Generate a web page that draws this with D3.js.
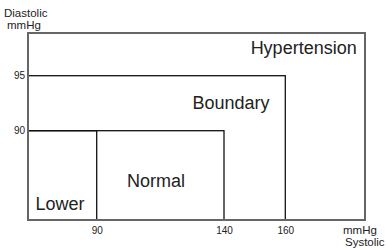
<!DOCTYPE html>
<html>
<head>
<meta charset="utf-8">
<script src="https://cdn.jsdelivr.net/npm/d3@7"></script>
<style>
  body { margin: 0; background: #fff; }
  .tick text { font-family: "Liberation Sans Narrow", "Arial Narrow", sans-serif; font-size: 10px; fill: #222; }
</style>
</head>
<body>
<script>
// zones, each drawn as a box from the origin up to (systolic, diastolic)
const zoneNames = ["Hypertension", "Boundary", "Normal", "Lower"]
const zoneSystolic = [180, 160, 140, 90]
const zoneDiastolic = [100, 95, 90, 90]
const systolicTicks = [90, 140, 160]
const diastolicTicks = [90, 95]

const width = 388, height = 249

// the picture is not to scale, so the scales are piecewise
const x = d3.scaleLinear()
    .domain([60, 90, 140, 160, 180])
    .range([28, 96.7, 224, 285.3, 365])
const y = d3.scaleLinear()
    .domain([80, 90, 95, 100])
    .range([220, 130.7, 75.7, 33])

const svg = d3.select("body")
    .append("svg")
    .attr("width", width)
    .attr("height", height)

const x0 = x.domain()[0], y0 = y.domain()[0]

// inner boxes first, outer frame last so its grey edges stay on top
const order = d3.range(zoneNames.length).reverse()
svg.selectAll("rect.zone")
    .data(order)
    .enter()
    .append("rect")
    .attr("class", "zone")
    .attr("x", x(x0))
    .attr("y", i => y(zoneDiastolic[i]))
    .attr("width", i => x(zoneSystolic[i]) - x(x0))
    .attr("height", i => y(y0) - y(zoneDiastolic[i]))
    .attr("fill", "none")
    .attr("stroke", i => i == 0 ? "#666" : "#111")
    .attr("stroke-width", i => i == 0 ? 2 : 1.3)

// zone labels
const labelPos = [
    {x: 356.7, y: 54, anchor: "end"},
    {x: 231, y: 109, anchor: "middle"},
    {x: 156, y: 187, anchor: "middle"},
    {x: 60, y: 210, anchor: "middle"}
]
svg.selectAll("text.zone")
    .data(zoneNames)
    .enter()
    .append("text")
    .attr("class", "zone")
    .attr("x", (d, i) => labelPos[i].x)
    .attr("y", (d, i) => labelPos[i].y)
    .attr("text-anchor", (d, i) => labelPos[i].anchor)
    .attr("font-family", "Liberation Sans, Arial, sans-serif")
    .attr("font-size", 18)
    .attr("fill", "#222")
    .text(d => d)

// axes: labels only
const xAxis = svg.append("g")
    .attr("transform", `translate(0,${y(y0) + 7})`)
    .call(d3.axisBottom(x).tickValues(systolicTicks).tickSize(0).tickPadding(0))
xAxis.select(".domain").remove()

const yAxis = svg.append("g")
    .attr("transform", `translate(${x(x0) - 3},0)`)
    .call(d3.axisLeft(y).tickValues(diastolicTicks).tickSize(0).tickPadding(0))
yAxis.select(".domain").remove()

const axisFont = "Liberation Sans, Arial, sans-serif"
const titles = [
    {t: "Diastolic", x: 4, y: 17},
    {t: "mmHg", x: 7, y: 29},
    {t: "mmHg", x: 343, y: 234},
    {t: "Systolic", x: 345, y: 246}
]
svg.selectAll("text.title")
    .data(titles)
    .enter()
    .append("text")
    .attr("class", "title")
    .attr("x", d => d.x)
    .attr("y", d => d.y)
    .attr("font-family", axisFont)
    .attr("font-size", 11.5)
    .attr("fill", "#222")
    .text(d => d.t)
</script>
</body>
</html>
